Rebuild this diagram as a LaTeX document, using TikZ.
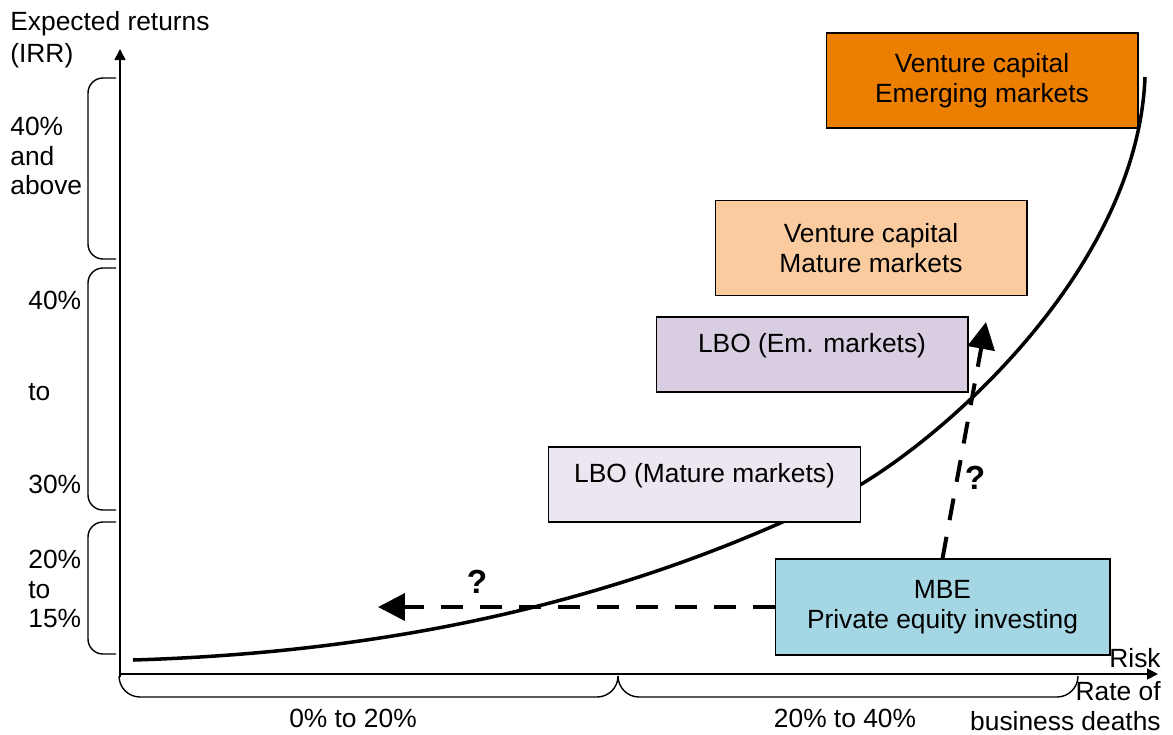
\documentclass[tikz,border=0pt]{standalone}
\definecolor{irrorange}{RGB}{236,127,0}
\definecolor{irrpeach}{RGB}{251,203,160}
\definecolor{irrlilac}{RGB}{216,205,225}
\definecolor{irrlavender}{RGB}{236,230,241}
\definecolor{irrblue}{RGB}{165,214,228}
\usepackage{fontspec}
\setmainfont{Liberation Sans}
\usepackage{tikz}
\usetikzlibrary{arrows.meta}

\begin{document}
\begin{tikzpicture}[
      x=0.02cm, y=-0.02cm,
      font=\fontsize{15}{17}\selectfont,
      box/.style={draw=black, line width=0.6pt, minimum width=6.24cm, minimum height=1.9cm, align=center},
      boxlow/.style={box, minimum height=1.5cm, text depth=0.45cm},
      axis/.style={-{Triangle[length=0.22cm, width=0.22cm]}, line width=0.9pt},
      bracket/.style={line width=0.8pt, rounded corners=0.3cm},
      guess/.style={-{Triangle[length=0.54cm, width=0.54cm]}, line width=0.08cm, dash pattern=on 0.44cm off 0.34cm},
      lbl/.style={inner sep=0pt, align=left},
      qmark/.style={inner sep=0pt, font=\fontsize{19}{19}\selectfont\bfseries}
    ]
      \useasboundingbox (0,0) rectangle (1173,734);

      % Axes
      \coordinate (origin) at (120,674);
      \coordinate (ytop) at (120,49);
      \coordinate (xend) at (1158,674);
      \draw[axis] (120,677) -- (ytop);
      \draw[axis] (origin) -- (xend);

      % Return curve
      \draw[line width=2pt] (133,660) .. controls (400,652) and (640,598) .. (860,485)
                                      .. controls (960,425) and (1138,260) .. (1145,77);

      % Strategies
      \node[box, fill=irrorange] (vcem) at (982,80.5) {Venture capital\\Emerging markets};
      \node[box, fill=irrpeach] (vcmat) at (871,248) {Venture capital\\Mature markets};
      \node[boxlow, fill=irrlilac] (lboem) at (812,354.5) {LBO (Em. markets)};
      \node[boxlow, fill=irrlavender] (lbomat) at (704.5,484.5) {LBO (Mature markets)};
      \node[box, fill=irrblue, minimum width=6.7cm, minimum height=1.92cm] (mbe) at (942.5,607) {MBE\\Private equity investing};

      % Open questions
      \coordinate (left) at (378,607);
      \coordinate (up) at (986,322);
      \draw[guess] (mbe.west) -- (left);
      \draw[guess] (mbe.north) -- (up);
      \node[qmark] (q1) at (477,582) {?};
      \node[qmark] (q2) at (975,478) {?};

      % Return brackets
      \draw[bracket] (116,78) -- (88,78) -- (88,259) -- (116,259);
      \draw[bracket] (116,268) -- (88,268) -- (88,510) -- (116,510);
      \draw[bracket] (116,522) -- (88,522) -- (88,654) -- (116,654);
      \node[lbl, anchor=west] (top) at (10,156) {40\%\\and\\above};
      \node[lbl, anchor=west] (mida) at (28,300) {40\%};
      \node[lbl, anchor=west] (midb) at (28,392) {to};
      \node[lbl, anchor=west] (midc) at (28,484) {30\%};
      \node[lbl, anchor=west] (low) at (28,589) {20\%\\to\\15\%};

      % Risk brackets
      \draw[bracket, rounded corners=0.42cm] (119,676) -- (119,697) -- (618,697) -- (618,676);
      \draw[bracket, rounded corners=0.42cm] (618,676) -- (618,697) -- (1078,697) -- (1078,676);
      \node[lbl] (riska) at (353,718) {0\% to 20\%};
      \node[lbl] (riskb) at (845,718) {20\% to 40\%};

      % Axis labels
      \node[lbl, anchor=west] (ylab) at (10,24) {Expected returns};
      \node[lbl, anchor=west] (yunit) at (10,56) {(IRR)};
      \node[lbl, anchor=east] (xlab) at (1161,658) {Risk};
      \node[lbl, anchor=east, align=right] (xunit) at (1161,706) {Rate of\\business deaths};
    \end{tikzpicture}
\end{document}
